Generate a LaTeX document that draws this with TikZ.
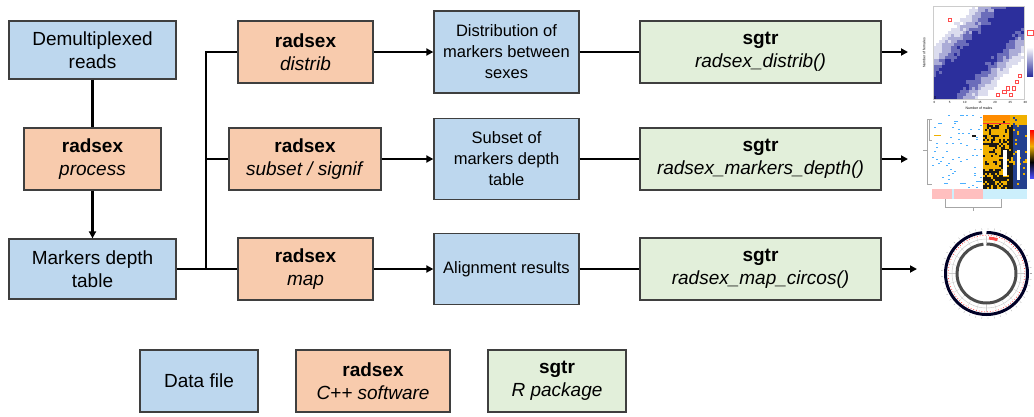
\documentclass[tikz,border=0pt]{standalone}
\usepackage{fontspec}
\setmainfont{Liberation Sans}
\usetikzlibrary{arrows.meta}
\definecolor{datablue}{HTML}{BDD7EE}
\definecolor{swOrange}{HTML}{F8CBAD}
\definecolor{pkgGreen}{HTML}{E2EFDA}
\definecolor{boxline}{HTML}{3F3F3F}
\definecolor{navy}{HTML}{2C2F9C}
\definecolor{hmYellow}{HTML}{F0B000}
\definecolor{hmDark}{HTML}{181818}
\definecolor{hmBlue}{HTML}{24408E}

\tikzset{
  box/.style={draw=boxline, line width=1.3pt, align=center, inner sep=0pt,
    font=\fontsize{19}{23}\selectfont},
  datafile/.style={box, fill=datablue},
  software/.style={box, fill=swOrange},
  package/.style={box, fill=pkgGreen},
  smalltext/.style={font=\fontsize{16.5}{21}\selectfont},
  link/.style={line width=2.6pt},
  flow/.style={link, -{Triangle[length=7pt,width=7pt]}},
  tinylabel/.style={font=\fontsize{3.5}{4}\selectfont, inner sep=0pt},
}

\begin{document}
\begin{tikzpicture}[x=1pt, y=-1pt]
    \useasboundingbox (0,0) rectangle (1034,416);
    \pgfmathsetseed{7}

    % left column
    \node[datafile, minimum width=167, minimum height=58] (demux) at (92.5,50) {Demultiplexed\\reads};
    \node[software, minimum width=137, minimum height=62] (process) at (92.5,159) {\textbf{radsex}\\\textit{process}};
    \node[datafile, minimum width=167, minimum height=60] (depth) at (92.5,269) {Markers depth\\table};

    % radsex commands
    \node[software, minimum width=135, minimum height=62] (distrib) at (305.5,52) {\textbf{radsex}\\\textit{distrib}};
    \node[software, minimum width=152, minimum height=62] (subset) at (305,159) {\textbf{radsex}\\\textit{subset / signif}};
    \node[software, minimum width=135, minimum height=62] (map) at (305.5,269) {\textbf{radsex}\\\textit{map}};

    % results
    \node[datafile, smalltext, minimum width=145, minimum height=82] (distres) at (506.5,52) {Distribution of\\markers between\\sexes};
    \node[datafile, smalltext, minimum width=145, minimum height=81] (subres) at (506.5,159) {Subset of\\markers depth\\table};
    \node[datafile, smalltext, minimum width=145, minimum height=71] (alignres) at (506.5,269) {Alignment results};

    % sgtr functions
    \node[package, minimum width=241, minimum height=62] (plotdist) at (760.5,52) {\textbf{sgtr}\\\textit{radsex\_distrib()}};
    \node[package, minimum width=241, minimum height=62] (plotdepth) at (760.5,159) {\textbf{sgtr}\\\textit{radsex\_markers\_depth()}};
    \node[package, minimum width=241, minimum height=62] (plotcircos) at (760.5,269) {\textbf{sgtr}\\\textit{radsex\_map\_circos()}};

    % legend
    \node[datafile, minimum width=118, minimum height=62] (legdata) at (199,381) {Data file};
    \node[software, minimum width=154, minimum height=62] (legsoft) at (373,381) {\textbf{radsex}\\\textit{C++ software}};
    \node[package, minimum width=138, minimum height=62] (legpkg) at (557,381) {\textbf{sgtr}\\\textit{R package}};

    % connectors
    \coordinate (trunk) at (206,269);
    \coordinate (pic1) at (908,52);
    \coordinate (pic2) at (908,159);
    \coordinate (pic3) at (917,269);
    \draw[link] (demux) -- (process);
    \draw[flow] (process) -- (depth);
    \draw[link] (depth.east) -- (map.west);
    \draw[link] (trunk) |- (distrib.west);
    \draw[link] (trunk |- subset.west) -- (subset.west);
    \draw[flow] (distrib) -- (distres);
    \draw[flow] (subset) -- (subres);
    \draw[flow] (map) -- (alignres);
    \draw[link] (distres) -- (plotdist);
    \draw[link] (subres) -- (plotdepth);
    \draw[link] (alignres) -- (plotcircos);
    \draw[flow] (plotdist.east) -- (pic1);
    \draw[flow] (plotdepth.east) -- (pic2);
    \draw[flow] (plotcircos.east) -- (pic3);

    % thumbnail: distribution heatmap
    \foreach \i in {0,...,29}
      \foreach \j in {0,...,29} {
        \pgfmathsetmacro\e{abs(\i-\j)+3*rnd-1.5}
        \pgfmathtruncatemacro\lvl{\e<7 ? 100 : (\e<10 ? 70 : (\e<13 ? 40 : (\e<16 ? 17 : 0)))}
        \fill[navy!\lvl!white] (933+3.03*\i,99-3.1*\j) rectangle +(3.03,-3.1);
      }
    \fill[navy!70!black] (933,99) rectangle +(3.03,-3.1);
    \draw[gray!40, line width=0.3pt] (933,6) rectangle (1024,99);
    \foreach \i/\j in {21/1,23/2,25/1,26/3,27/5,28/7,24/3,5/25}
      \draw[red!70, line width=0.4pt] (933+3.03*\i,99-3.1*\j) rectangle +(3.03,-3.1);
    \foreach \t [count=\k from 0] in {0,5,10,15,20,25,30}
      \node[font=\fontsize{3}{3}\selectfont, inner sep=0pt] (xt\k) at (934.5+15.15*\k,102.5) {\t};
    \node[tinylabel] (xlab) at (979,108) {Number of males};
    \node[tinylabel, rotate=90] (ylab) at (924,53) {Number of females};
    \draw[red!70, line width=0.4pt] (1027,30) rectangle (1033,35);
    \shade[top color=white, bottom color=navy] (1027,47) rectangle (1033,76);

    % thumbnail: markers depth heatmap
    \fill[white] (932,115) rectangle (983,189);
    \foreach \i in {0,...,24}
      \foreach \j in {0,...,36} {
        \pgfmathtruncatemacro\speck{rnd<0.08 ? 1 : 0}
        \ifnum\speck=1
          \fill[blue!45!cyan!70] (932+2*\i,115+2*\j) rectangle +(2,1.2);
        \fi
      }
    \foreach \i in {0,...,21}
      \foreach \j in {0,...,36} {
        \pgfmathsetmacro\cx{983+2*\i}
        \pgfmathsetmacro\cy{115+2*\j}
        \pgfmathsetmacro\p{\cy<125 ? 0.9 : (\cy<148 ? (\cx<1009 ? 0.6 : 0.1) : (\cy<168 ? (\cx<1001 ? 0.8 : 0.15) : (\cx<1009 ? 0.35 : 0.05)))}
        \pgfmathtruncatemacro\isy{rnd<\p ? 1 : 0}
        \pgfmathtruncatemacro\isb{\cx>1012 ? 1 : 0}
        \ifnum\isy=1 \def\cellcol{hmYellow}\else\ifnum\isb=1 \def\cellcol{hmBlue}\else\def\cellcol{hmDark}\fi\fi
        \fill[\cellcol] (\cx,\cy) rectangle +(2,2);
      }
    \fill[orange!90!yellow] (983,115) rectangle (1010,121);
    \fill[red!80] (983,122.5) rectangle (1010,123.5);
    \fill[white] (1003,150) rectangle (1007,176);
    \fill[white] (1017,150) rectangle (1020,180);
    \fill[hmYellow] (934,134.5) rectangle (941,136);
    \fill[hmDark] (972,135) rectangle (976,137);
    \fill[red!25] (932,189) rectangle (983,199);
    \fill[cyan!20] (952,189) rectangle (953.5,199);
    \fill[cyan!20] (983,189) rectangle (1027,199);
    \draw[gray!70, line width=0.3pt] (932,119) -- (927,119) -- (927,184) -- (932,184)
      (927,150) -- (923,150) (929,119) -- (929,140) -- (932,140);
    \draw[gray!70, line width=0.3pt] (945,199) -- (945,207) -- (1001,207) -- (1001,199)
      (973,207) -- (973,211);
    \shade[top color=red, bottom color=hmYellow] (1030,130) rectangle (1034,146);
    \shade[top color=hmYellow, bottom color=black] (1030,146) rectangle (1034,162);
    \shade[top color=black, bottom color=blue!70] (1030,162) rectangle (1034,178);

    % thumbnail: circos plot (angles run clockwise, y points down)
    \coordinate (cc) at (986.5,273.5);
    \foreach \a in {0,15,...,345}
      \draw[gray!40, line width=0.3pt] (cc) ++(\a:31) -- ++(\a:7);
    \foreach \a in {0,8,...,352}
      \draw[gray!70, line width=0.3pt] (cc) ++(\a:43.5) -- ++(\a:2);
    \draw[gray!45, line width=0.4pt] (cc) circle[radius=34.5];
    \draw[gray!60!black, line width=3pt] (cc) ++(-90:29.5) arc[start angle=-90, end angle=264, radius=29.5];
    \draw[red!70, line width=0.8pt, dotted] (cc) circle[radius=38.3];
    \fill[red!70] (cc) ++(-86:37) arc[start angle=-86, end angle=-72, radius=37] -- ++(-72:-3) arc[start angle=-72, end angle=-86, radius=34] -- cycle;
    \draw[black!85!blue, line width=3pt] (cc) ++(-90:41) arc[start angle=-90, end angle=264, radius=41];
\end{tikzpicture}
\end{document}
